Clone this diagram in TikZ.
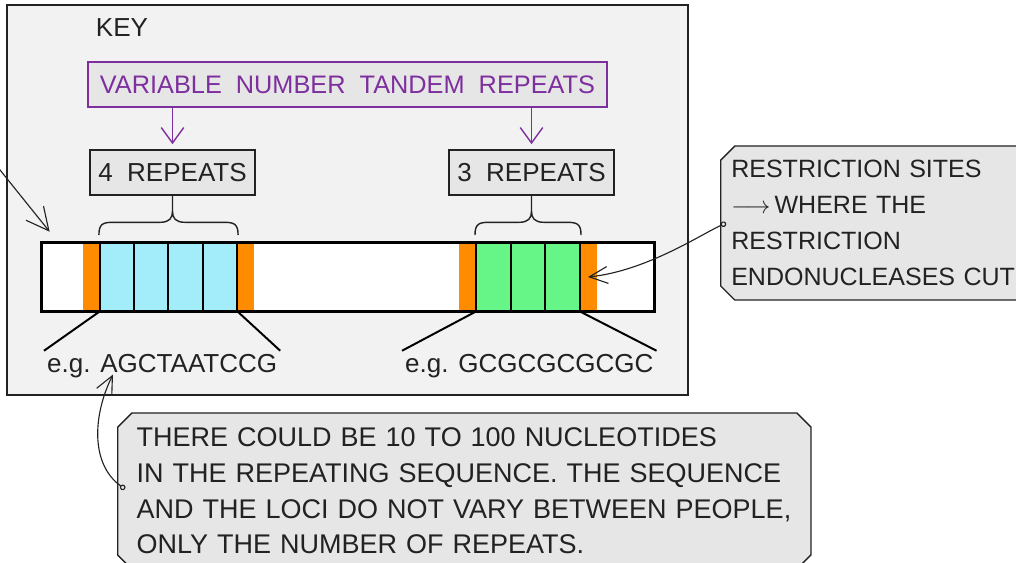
\documentclass[tikz,border=0pt]{standalone}
\usepackage{fontspec}
\setmainfont{Liberation Sans}[WordSpace=2]
\usepackage{tikz}
\usetikzlibrary{arrows.meta,positioning,calc,shapes.misc}
\usepackage{xcolor}
\definecolor{keygrey}{HTML}{F2F2F2}
\definecolor{notegrey}{HTML}{E6E6E6}
\definecolor{vntrpurple}{HTML}{7E2F9E}
\definecolor{repcyan}{HTML}{A3EDFA}
\definecolor{repgreen}{HTML}{66F587}
\definecolor{siteorange}{HTML}{FF8C00}
\definecolor{inkgrey}{HTML}{222222}
\frenchspacing

\begin{document}
\begin{tikzpicture}[x=0.025cm,y=-0.025cm,
  txt/.style={font=\fontsize{18.5}{25.5}\selectfont, text=inkgrey},
  labelbox/.style={txt, draw=inkgrey, fill=notegrey, line width=1pt, minimum width=4.13cm, minimum height=1.13cm, inner sep=0pt},
  note/.style={txt, draw=inkgrey, fill=notegrey, line width=1pt, chamfered rectangle, chamfered rectangle xsep=5pt, chamfered rectangle ysep=5pt, align=left, anchor=west},
  cell/.style={draw=black, line width=1.4pt, minimum width=0.86cm, minimum height=1.7cm, inner sep=0pt},
  site/.style={fill=siteorange, minimum width=0.43cm, minimum height=1.7cm, inner sep=0pt},
  seq/.style={txt, anchor=base west, inner sep=2pt},
  purplearrow/.style={draw=vntrpurple, line width=1pt, -{Straight Barb[length=11pt,width=16pt]}},
  ptr/.style={draw=inkgrey, line width=0.8pt, {Circle[open,length=4pt]}-{Straight Barb[length=13pt,width=12pt]}}
]
  \useasboundingbox (0,0) rectangle (1016,562);
  \clip (0,0) rectangle (1016,562);
  \draw[draw=inkgrey, fill=keygrey, line width=1.2pt] (7,5) rectangle (688,395);
  \node[txt] (key) at (122,28) {KEY};
  \node[labelbox, draw=vntrpurple, text=vntrpurple, minimum width=12.98cm, font=\fontsize{18}{25.5}\selectfont] (vntr) at (347.5,84.5) {VARIABLE NUMBER TANDEM REPEATS};
  \node[labelbox] (rep4) at (172.5,172.5) {4 REPEATS};
  \node[labelbox] (rep3) at (531.5,172.5) {3 REPEATS};
  \draw[purplearrow] (vntr.south -| rep4.north) -- ($(rep4.north)+(0,-5)$);
  \draw[purplearrow] (vntr.south -| rep3.north) -- ($(rep3.north)+(0,-5)$);

  \node[draw=black, fill=white, minimum width=15.3cm, minimum height=1.7cm, inner sep=0pt] (dna) at (348,277) {};
  \foreach \n/\x in {o1/91.5,o2/245.5,o3/467.5,o4/588}
    \node[site] (\n) at (\x,277) {};
  \foreach \i/\x in {1/117.1,2/151.4,3/185.6,4/219.9}
    \node[cell, fill=repcyan] (c\i) at (\x,277) {};
  \foreach \i/\x in {1/493.3,2/528,3/562.7}
    \node[cell, fill=repgreen, minimum width=0.867cm] (g\i) at (\x,277) {};
  \draw[line width=2pt] (dna.north west) rectangle (dna.south east);

  \foreach \a/\b/\r in {c1/c4/rep4, g1/g3/rep3}
    \draw[draw=inkgrey, line width=1pt] let \p1=(\a.north west), \p2=(\b.north east), \p3=(\r.south) in
      (\x1,\y1+5pt) .. controls (\x1,\y1+13pt) and (\x1+3pt,\y1+14pt) .. (\x1+10pt,\y1+14pt)
      -- (\x3-9pt,\y1+14pt) .. controls (\x3-2pt,\y1+14pt) and (\x3,\y1+17pt) .. (\x3,\y1+22pt)
      -- (\x3,\y3)
      (\x2,\y1+5pt) .. controls (\x2,\y1+13pt) and (\x2-3pt,\y1+14pt) .. (\x2-10pt,\y1+14pt)
      -- (\x3+9pt,\y1+14pt) .. controls (\x3+2pt,\y1+14pt) and (\x3,\y1+17pt) .. (\x3,\y1+22pt);

  \node[seq] (seqA) at (44,372) {e.g.\hspace{7pt}AGCTAATCCG};
  \node[seq] (seqB) at (402,372) {e.g.\hspace{7pt}GCGCGCGCGC};
  \draw[line width=1.4pt] (c1.south west) -- (seqA.north west);
  \draw[line width=1.4pt] (c4.south east) -- (seqA.north east);
  \draw[line width=1.4pt] (g1.south west) -- (seqB.north west);
  \draw[line width=1.4pt] (g3.south east) -- (seqB.north east);

  \node[note, inner xsep=2.5pt, text width=9cm, minimum height=3.85cm, font=\fontsize{17.8}{25.5}\selectfont] (sites) at (720,223)
    {RESTRICTION SITES\\ $\longrightarrow$\,WHERE THE\\ RESTRICTION\\ ENDONUCLEASES CUT};
  \node[note, inner xsep=8.5pt, text width=466pt, minimum height=3.9cm, font=\fontsize{19.2}{25.4}\selectfont] (fact) at (117,491)
    {THERE COULD BE 10 TO 100 NUCLEOTIDES\\ IN THE REPEATING SEQUENCE. THE SEQUENCE\\ \mbox{AND THE LOCI DO NOT VARY BETWEEN PEOPLE,}\\ ONLY THE NUMBER OF REPEATS.};

  \draw[ptr] ($(sites.west)+(6,0)$) .. controls +(-26,12) and +(58,-6) .. (o4.center);
  \draw[ptr] ($(fact.west)+(8,-2)$) .. controls +(-35,-25) and +(-20,40) .. ($(seqA.south west)+(69,-6)$);
  \coordinate (stray) at (-8,160);
  \draw[ptr, -{Straight Barb[length=16pt,width=16pt]}] (stray) -- ($(dna.north west)+(8,-11)$);
\end{tikzpicture}
\end{document}
